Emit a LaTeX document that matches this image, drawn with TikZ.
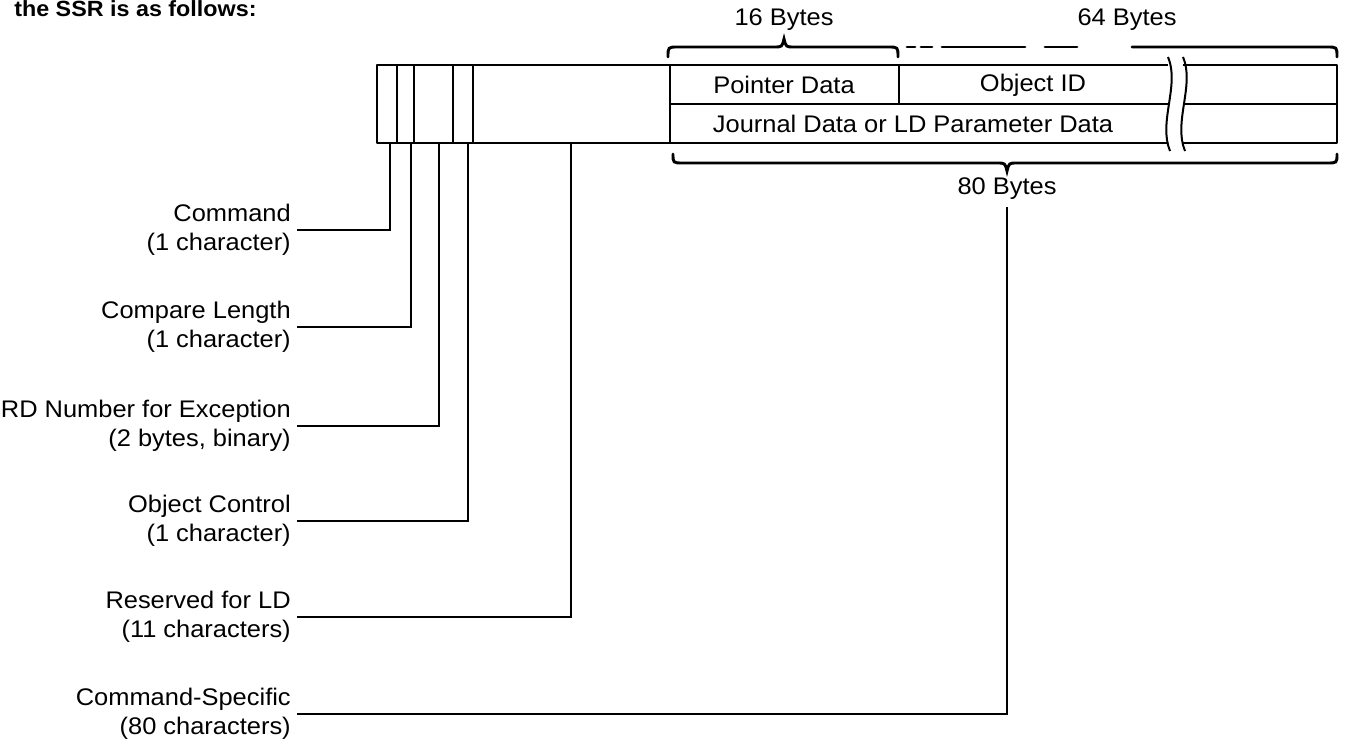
\documentclass[tikz,border=0pt]{standalone}
\usepackage{fontspec}
\setmainfont{Liberation Sans}[FakeStretch=1.06]
\begin{document}
\begin{tikzpicture}[x=0.75pt,y=-0.75pt,
  txt/.style={inner sep=0pt, font=\fontsize{18}{22}\selectfont},
  lbl/.style={txt, align=right, anchor=east, inner xsep=4.5pt},
  frame/.style={line width=2.2pt, line join=round},
  divider/.style={line width=1.5pt},
  leader/.style={line width=1.4pt},
  brace/.style={line width=2.2pt, line cap=round}]
\useasboundingbox (0,0) rectangle (1345,745);
\clip (0,0) rectangle (1345,745);

% heading line above the record
\node[anchor=base west, inner sep=0pt, font=\fontsize{16.5}{20}\selectfont\bfseries] (head) at (14,16.5) {the SSR is as follows:};

% record frame, interrupted by the break symbol
\draw[frame] (1168,65) -- (377,65) -- (377,143) -- (1168,143);
\draw[frame] (1183,65) -- (1337,65) -- (1337,143) -- (1183,143);
% field separators of the fixed header
\foreach \xx in {397,414,453,473,670}
  \draw[divider] (\xx,65) -- (\xx,143);
% data area subdivisions
\draw[divider] (670,104) -- (1168,104);
\draw[divider] (1183,104) -- (1337,104);
\draw[divider] (899,65) -- (899,104);
% break symbol
\draw[divider] (1168,57) .. controls (1180,85) and (1158,122) .. (1170,151);
\draw[divider] (1183,57) .. controls (1195,85) and (1173,122) .. (1185,151);

% field texts
\node[txt] (ptr) at (784,85) {Pointer Data};
\node[txt] (oid) at (1033,85) {Object ID};
\node[txt] (jrn) at (913,124) {Journal Data or LD Parameter Data};

% size braces
\node[txt] (b16) at (784,20) {16 Bytes};
\node[txt] (b64) at (1127,20) {64 Bytes};
\node[txt] (b80) at (1007,189) {80 Bytes};
\draw[brace] (668,57) .. controls (668,47) .. (678,47) -- (774,47)
  .. controls (782,47) .. (784,39) .. controls (786,47) .. (794,47)
  -- (888,47) .. controls (898,47) .. (898,57);
\draw[brace] (907,47) -- (915,47) (921,47) -- (932,47) (942,47) -- (1025,47)
  (1045,47) -- (1077,47);
\draw[brace] (1132,47) -- (1327,47) .. controls (1337,47) .. (1337,57);
\draw[brace] (673,154) .. controls (673,163) .. (683,163) -- (997,163)
  .. controls (1005,163) .. (1007,171) .. controls (1009,163) .. (1017,163)
  -- (1327,163) .. controls (1337,163) .. (1337,154);

% points where the leaders meet the record
\coordinate (f1) at (390,143);
\coordinate (f2) at (411,143);
\coordinate (f3) at (439,143);
\coordinate (f4) at (468,143);
\coordinate (f5) at (571,143);

% field descriptions
\node[lbl] (cmd) at (297,230) {Command\\(1 character)};
\node[lbl] (cmp) at (297,327) {Compare Length\\(1 character)};
\node[lbl] (rdn) at (297,426) {RD Number for Exception\\(2 bytes, binary)};
\node[lbl] (obj) at (297,521) {Object Control\\(1 character)};
\node[lbl] (rsv) at (297,617) {Reserved for LD\\(11 characters)};
\node[lbl] (csp) at (297,714) {Command-Specific\\(80 characters)};

% leaders
\draw[leader] (cmd.east) -| (f1);
\draw[leader] (cmp.east) -| (f2);
\draw[leader] (rdn.east) -| (f3);
\draw[leader] (obj.east) -| (f4);
\draw[leader] (rsv.east) -| (f5);
\draw[leader] (csp.east) -| ([yshift=-5pt]b80.south);
\end{tikzpicture}
\end{document}
